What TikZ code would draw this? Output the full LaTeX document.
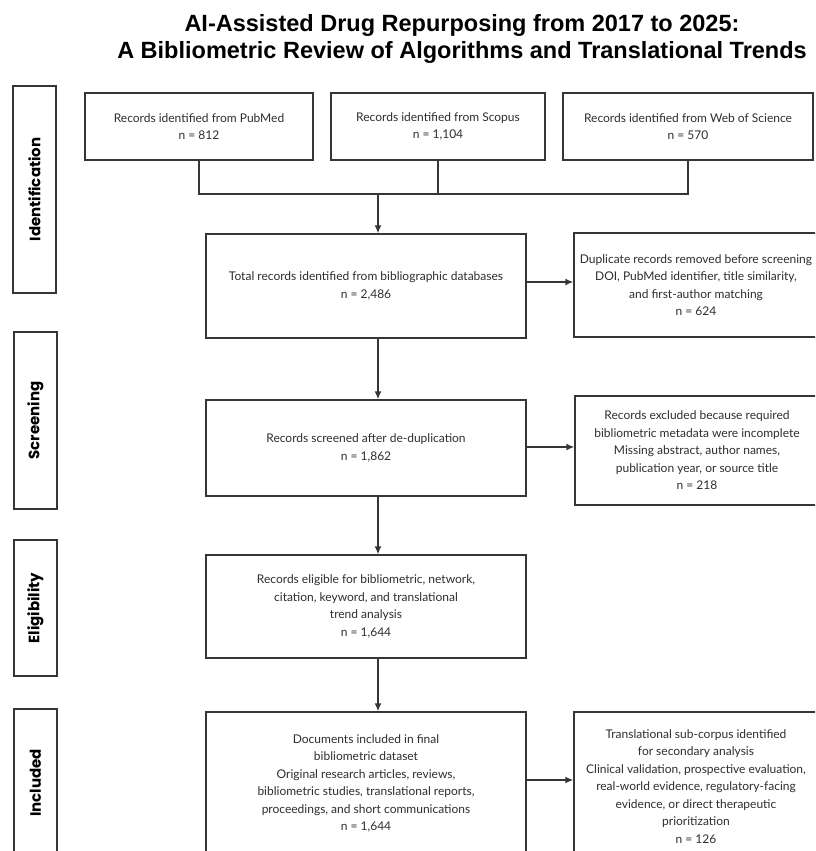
\documentclass[tikz,border=0pt]{standalone}
\usepackage{fontspec}
\setmainfont{Lato}
\newfontfamily\titlefont{Liberation Sans}
\newfontfamily\phasefont{Poppins}
\usetikzlibrary{arrows.meta}
\definecolor{boxgray}{HTML}{363636}
\definecolor{textgray}{HTML}{2E2E2E}

\begin{document}
\begin{tikzpicture}[x=1pt,y=-1pt,
  recbox/.style={draw=boxgray,line width=1.4pt,align=center,inner sep=2pt,text=textgray,
    font=\fontsize{12}{17.5}\selectfont},
  phasebox/.style={draw=boxgray,line width=1.4pt,rotate=90,inner sep=0pt,minimum height=43pt,
    font=\phasefont\bfseries\fontsize{15}{17}\selectfont},
  link/.style={draw=boxgray,line width=1.4pt},
  flow/.style={link,-{Latex[length=8pt,width=7pt]}}]
  \useasboundingbox (0,0) rectangle (815,851);
  \clip (0,0) rectangle (815,851);
  \fill[white] (0,0) rectangle (815,851);

  \node[font=\titlefont\bfseries\fontsize{23.5}{27}\selectfont,align=center] (title) at (462,39)
    {AI-Assisted Drug Repurposing from 2017 to 2025:\\ A Bibliometric Review of Algorithms and Translational Trends};

  \node[phasebox,minimum width=207pt] (ident)  at (34.5,189.5) {Identification};
  \node[phasebox,minimum width=177pt] (screen) at (35.5,420.5) {Screening};
  \node[phasebox,minimum width=136pt] (elig)   at (35.5,608)   {Eligibility};
  \node[phasebox,minimum width=148pt] (incl)   at (35.5,783)   {Included};

  \node[recbox,minimum width=228pt,minimum height=67pt] (pubmed) at (199,126.5)
    {Records identified from PubMed\\ n = 812};
  \node[recbox,minimum width=214pt,minimum height=67pt] (scopus) at (438,126.5)
    {Records identified from Scopus\\ n = 1,104};
  \node[recbox,minimum width=250pt,minimum height=67pt] (wos) at (688,126.5)
    {Records identified from Web of Science\\ n = 570};

  \node[recbox,minimum width=320pt,minimum height=104pt] (total) at (366,286)
    {Total records identified from bibliographic databases\\ n = 2,486};
  \node[recbox,minimum width=244pt,minimum height=104pt] (dup) at (696,285)
    {Duplicate records removed before screening\\ DOI, PubMed identifier, title similarity,\\
     and first-author matching\\ n = 624};

  \node[recbox,minimum width=320pt,minimum height=96pt] (screened) at (366,448)
    {Records screened after de-duplication\\ n = 1,862};
  \node[recbox,minimum width=244pt,minimum height=109pt] (excl) at (697,450.5)
    {Records excluded because required\\ bibliometric metadata were incomplete\\
     Missing abstract, author names,\\ publication year, or source title\\ n = 218};

  \node[recbox,minimum width=320pt,minimum height=103pt] (eligible) at (366,606.5)
    {Records eligible for bibliometric, network,\\ citation, keyword, and translational\\
     trend analysis\\ n = 1,644};

  \node[recbox,minimum width=320pt,minimum height=143pt] (included) at (366,783.5)
    {Documents included in final\\ bibliometric dataset\\ Original research articles, reviews,\\
     bibliometric studies, translational reports,\\ proceedings, and short communications\\ n = 1,644};
  \node[recbox,minimum width=244pt,minimum height=149pt] (trans) at (696,786.5)
    {Translational sub-corpus identified\\ for secondary analysis\\ Clinical validation, prospective evaluation,\\
     real-world evidence, regulatory-facing\\ evidence, or direct therapeutic\\ prioritization\\ n = 126};

  \coordinate (spine) at (378,194);
  \draw[link] (pubmed.south) -- (pubmed.south |- spine) -- (wos.south |- spine) -- (wos.south);
  \draw[link] (scopus.south) -- (scopus.south |- spine);
  \draw[flow] (spine) -- (spine |- total.north);
  \draw[flow] (spine |- total.south) -- (spine |- screened.north);
  \draw[flow] (spine |- screened.south) -- (spine |- eligible.north);
  \draw[flow] (spine |- eligible.south) -- (spine |- included.north);

  \draw[flow] ([yshift=4pt]total.east) -- ([yshift=4pt]total.east -| dup.west);
  \draw[flow] ([yshift=1pt]screened.east) -- ([yshift=1pt]screened.east -| excl.west);
  \draw[flow] ([yshift=3.5pt]included.east) -- ([yshift=3.5pt]included.east -| trans.west);
\end{tikzpicture}
\end{document}
